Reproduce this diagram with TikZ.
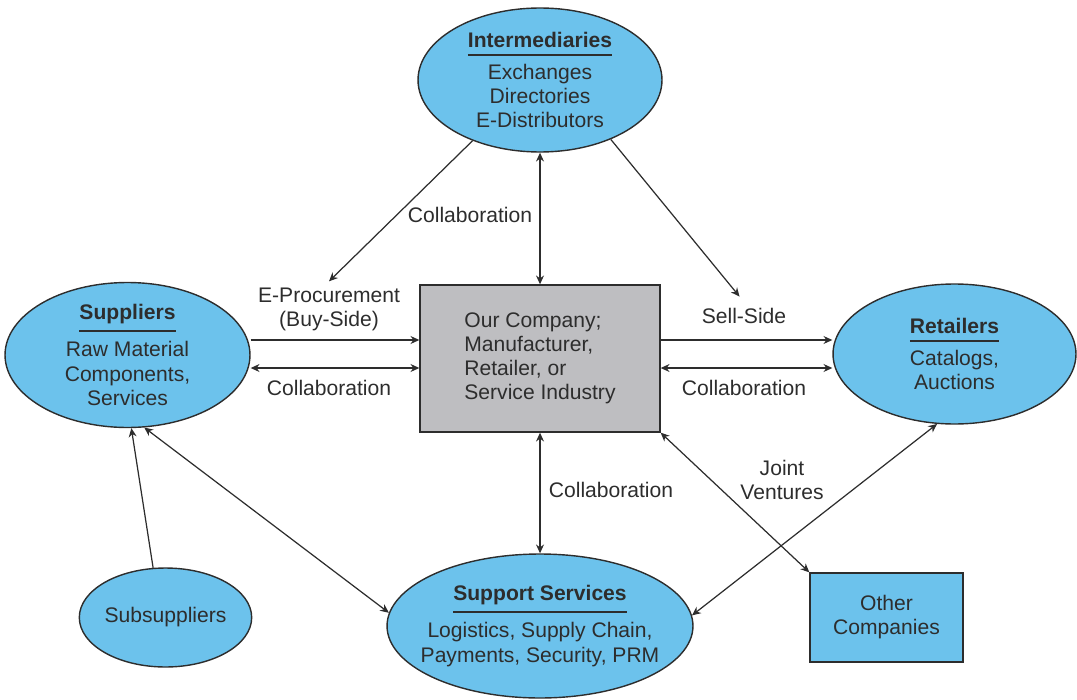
\documentclass[tikz,border=0pt]{standalone}
\usepackage{fontspec}
\setmainfont{Liberation Sans}
\usetikzlibrary{shapes.geometric,arrows.meta}
\definecolor{skyfill}{RGB}{108,194,236}
\definecolor{boxgray}{RGB}{190,190,193}
\definecolor{ink}{RGB}{45,45,45}
% bold title with a rule under it
\newcommand{\hdr}[1]{\setbox0\hbox{\bfseries #1}\vtop{\copy0\kern3.5pt\hrule height1.1pt width\wd0}}
\tikzset{
    >={Stealth[length=5pt,width=4.5pt]},
    txt/.style={font=\fontsize{12}{13.7}\selectfont, text=ink, align=center},
    bubble/.style={txt, ellipse, draw=ink, line width=0.8pt, fill=skyfill, inner sep=0pt},
    block/.style={txt, rectangle, draw=ink, line width=0.8pt},
    arr/.style={->, draw=ink, line width=0.7pt},
    biarr/.style={<->, draw=ink, line width=0.7pt}
}
\begin{document}
\begin{tikzpicture}[x=0.02cm,y=-0.02cm]
    \useasboundingbox (0,0) rectangle (1077,699);
    % partners
    \node[bubble, minimum width=4.88cm, minimum height=2.88cm] (int) at (540,80)
        {\hdr{Intermediaries}\\[4.3pt]Exchanges\\Directories\\E-Distributors};
    \node[bubble, minimum width=4.9cm, minimum height=2.9cm] (sup) at (127.5,355)
        {\hdr{Suppliers}\\[4.3pt]Raw Material\\Components,\\Services};
    \node[bubble, minimum width=4.86cm, minimum height=2.8cm] (ret) at (954.5,354)
        {\hdr{Retailers}\\[4.3pt]Catalogs,\\Auctions};
    \node[bubble, minimum width=6.12cm, minimum height=2.88cm, inner xsep=-10.6pt] (ss) at (540,626)
        {\hdr{Support Services}\\[4.3pt]Logistics, Supply Chain,\\Payments, Security, PRM};
    \node[bubble, minimum width=3.3cm, minimum height=1.98cm] (sub) at (165.5,617.5) {Subsuppliers};
    \node[block, fill=boxgray, minimum width=4.8cm, minimum height=2.94cm, align=left] (oc) at (540,358.5)
        {Our Company;\\Manufacturer,\\Retailer, or\\Service Industry};
    \node[block, fill=skyfill, minimum width=3.06cm, minimum height=1.78cm] (oth) at (886.5,617.5)
        {Other\\Companies};
    % labels
    \node[txt] (eproc) at (329,309) {E-Procurement\\(Buy-Side)};
    \node[txt] (sell) at (744,316) {Sell-Side};
    \node[txt] (cTop) at (470,215) {Collaboration};
    \node[txt] (cLeft) at (329,388) {Collaboration};
    \node[txt] (cRight) at (744,388) {Collaboration};
    \node[txt] (cBot) at (611,490) {Collaboration};
    \node[txt] (jv) at (782,480) {Joint\\Ventures};
    % links
    \draw[arr] (int.222) -- (eproc.north);
    \draw[arr, shorten >=4pt] (int.320) -- (sell.north);
    \draw[biarr] (int.south) -- (oc.north);
    \draw[arr] (sup.east |- 0,340) -- (oc.west |- 0,340);
    \draw[biarr] (sup.east |- 0,368) -- (oc.west |- 0,368);
    \draw[arr] (oc.east |- 0,340) -- (ret.west |- 0,340);
    \draw[biarr] (oc.east |- 0,368) -- (ret.west |- 0,368);
    \draw[biarr] (oc.south) -- (ss.north);
    \draw[biarr] (oc.south east) -- (oth.north west);
    \draw[biarr] (ret.256) -- (ss.4);
    \draw[biarr] (sup.283) -- (ss.175);
    \draw[arr] (sub.104) -- (sup.273);
\end{tikzpicture}
\end{document}
